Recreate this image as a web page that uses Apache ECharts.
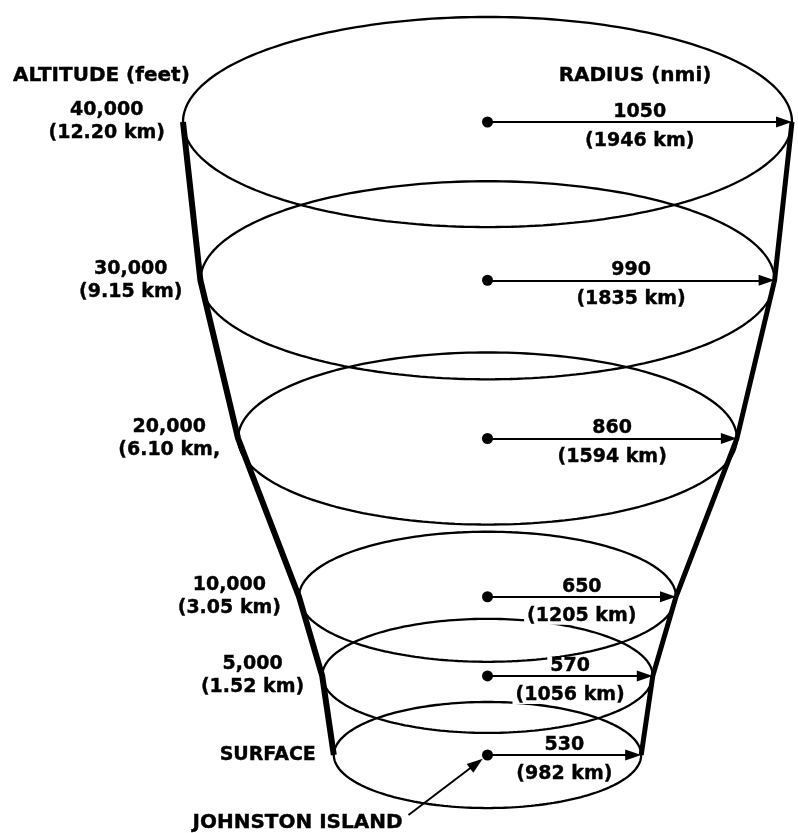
<!DOCTYPE html>
<html><head><meta charset="utf-8">
<script src="https://cdn.jsdelivr.net/npm/echarts@6/dist/echarts.min.js"></script>
<style>html,body{margin:0;padding:0;background:#fff}#c{width:798px;height:833px}</style>
</head><body><div id="c"></div>
<script>
// ---- data ----
const altitudeFeet = [40000, 30000, 20000, 10000, 5000, 0];
const altitudeLabels = ['40,000', '30,000', '20,000', '10,000', '5,000', 'SURFACE'];
const altitudeKmLabels = ['(12.20 km)', '(9.15 km)', '(6.10 km,', '(3.05 km)', '(1.52 km)', ''];
const radiusNmi = [1050, 990, 860, 650, 570, 530];
const radiusKmLabels = ['(1946 km)', '(1835 km)', '(1594 km)', '(1205 km)', '(1056 km)', '(982 km)'];
const siteLabel = 'JOHNSTON ISLAND';
const altitudeTitle = 'ALTITUDE (feet)';
const radiusTitle = 'RADIUS (nmi)';

// ---- layout / style constants ----
const W = 798, H = 833;
const X_MAX = 1050, Y_MAX = 40000, Y_MIN = -4500;
const TOP = 122, ZERO_Y = 755;                 // pixel rows of 40,000 ft and surface
const pxPerFt = (ZERO_Y - TOP) / Y_MAX;
const GRID = {left: 183, right: 6, top: TOP, bottom: H - ZERO_Y + Y_MIN * pxPerFt};
const pxPerNmi = (W - GRID.left - GRID.right) / (2 * X_MAX);
const TILT = 0.345;               // ellipse vertical/horizontal ratio (perspective)
const HEAD = 16;                  // arrow head length, px
const HEAD_PATH = 'path://M5.5,0 L11,16 L0,16 Z';
const FONT = 'DejaVu Sans';
const INK = '#000';

function ellipse(r, alt) {
  const ry = TILT * r * pxPerNmi / pxPerFt;
  const pts = [];
  const N = 240;
  for (let i = 0; i <= N; i++) {
    const t = 2 * Math.PI * i / N;
    pts.push([r * Math.cos(t), alt + ry * Math.sin(t)]);
  }
  return pts;
}

const series = [];
altitudeFeet.forEach((alt, i) => {
  series.push({
    type: 'line', data: ellipse(radiusNmi[i], alt), showSymbol: false, clip: false,
    silent: true, z: 1, lineStyle: {color: INK, width: 2.3}
  });
});

// funnel sides
series.push({
  type: 'line', data: altitudeFeet.map((a, i) => [-radiusNmi[i], a]), showSymbol: false,
  clip: false, silent: true, z: 6, lineStyle: {color: INK, width: 6, join: 'round'}
});
series.push({
  type: 'line', data: altitudeFeet.map((a, i) => [radiusNmi[i], a]), showSymbol: false,
  clip: false, silent: true, z: 6, lineStyle: {color: INK, width: 5, join: 'round'}
});

// Johnston Island pointer (pixel offsets from the surface dot, converted to data units)
const ptrDx = -79, ptrDy = 60, dotGap = 6;
const ptrLen = Math.hypot(ptrDx, ptrDy);
const tipBack = dotGap + HEAD / 2;
const ptrFrom = [ptrDx / pxPerNmi, altitudeFeet[5] - ptrDy / pxPerFt];
const ptrTo = [(ptrDx * tipBack / ptrLen) / pxPerNmi, altitudeFeet[5] - (ptrDy * tipBack / ptrLen) / pxPerFt];

// radius arrows (line shortened so the head's tip lands on the ring) + island pointer
series.push({
  type: 'line', data: [], silent: true, z: 5, clip: false,
  markLine: {
    silent: true, animation: false, label: {show: false}, emphasis: {disabled: true},
    symbolKeepAspect: true, lineStyle: {color: INK, width: 2, type: 'solid'},
    symbol: ['circle', HEAD_PATH], symbolSize: [11, HEAD],
    data: altitudeFeet.map((a, i) => [{coord: [0, a]}, {coord: [radiusNmi[i] - (HEAD / 2) / pxPerNmi, a]}])
      .concat([[{coord: ptrFrom, symbol: 'none'}, {coord: ptrTo}]])
  }
});

const labelBase = {fontFamily: FONT, fontWeight: 'bold', color: INK, textBorderColor: INK, textBorderWidth: 0.4};
const scatterBase = {type: 'scatter', symbolSize: 0, silent: true, z: 3, clip: false, itemStyle: {opacity: 1}};

// radius value labels (above arrow) and km labels (below arrow)
series.push({
  ...scatterBase,
  data: altitudeFeet.map((a, i) => ({value: [radiusNmi[i] / 2, a], name: String(radiusNmi[i])})),
  label: {show: true, position: 'top', distance: 1, formatter: p => p.name,
    ...labelBase, fontSize: 19, lineHeight: 18, backgroundColor: '#fff', padding: [0, 3]}
});
series.push({
  ...scatterBase,
  data: altitudeFeet.map((a, i) => ({value: [radiusNmi[i] / 2, a], name: radiusKmLabels[i]})),
  label: {show: true, position: 'bottom', distance: 10, formatter: p => p.name,
    ...labelBase, fontSize: 19, lineHeight: 18, backgroundColor: '#fff', padding: [0, 3]}
});

// altitude labels to the left of each ring
series.push({
  ...scatterBase,
  data: altitudeFeet.map((a, i) => ({value: [-radiusNmi[i], a], name: String(i)})),
  label: {show: true, position: 'left', distance: 18,
    formatter: p => {
      const i = +p.name;
      return altitudeKmLabels[i] ? '{a|' + altitudeLabels[i] + '}\n{a|' + altitudeKmLabels[i] + '}' : '{a|' + altitudeLabels[i] + '}';
    },
    rich: {a: {...labelBase, fontSize: 19, lineHeight: 23, align: 'center'}}
  }
});

// Johnston Island label
series.push({
  ...scatterBase,
  data: [{value: ptrFrom, name: siteLabel}],
  label: {show: true, position: 'inside', formatter: p => p.name, offset: [-111, 8],
    ...labelBase, fontSize: 20}
});

const chart = echarts.init(document.getElementById('c'), null, {renderer: 'canvas'});
chart.setOption({
  animation: false,
  backgroundColor: '#fff',
  title: [
    {text: altitudeTitle, left: 8, top: 61, textStyle: {...labelBase, fontSize: 20}},
    {text: radiusTitle, left: 630, top: 61, textAlign: 'center', textStyle: {...labelBase, fontSize: 20}}
  ],
  grid: GRID,
  xAxis: {type: 'value', min: -X_MAX, max: X_MAX, show: false},
  yAxis: {type: 'value', min: Y_MIN, max: Y_MAX, show: false},
  series
});
</script></body></html>
